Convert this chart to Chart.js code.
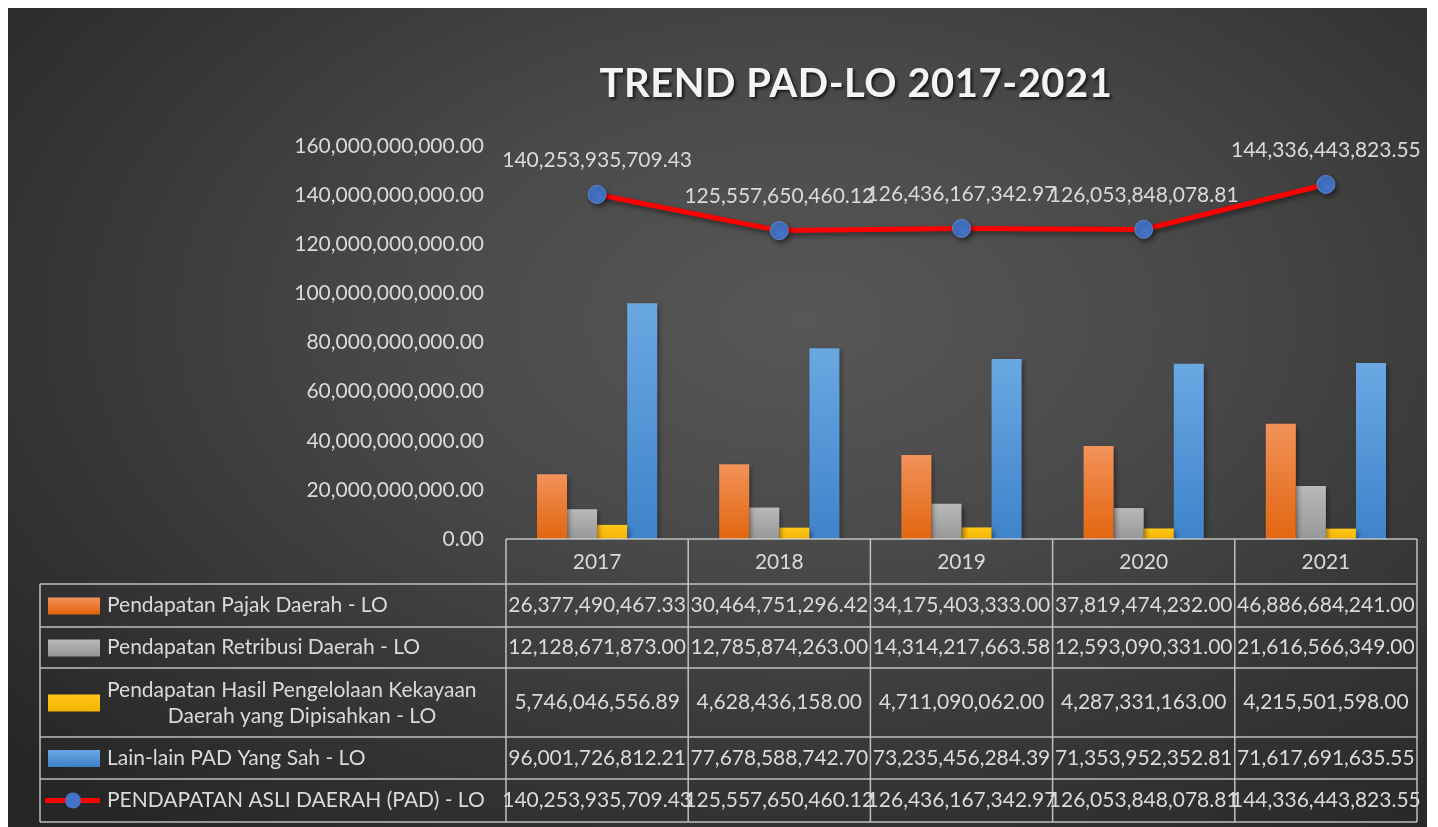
<!DOCTYPE html>
<html>
<head>
<meta charset="utf-8">
<title>TREND PAD-LO 2017-2021</title>
<script src="https://cdn.jsdelivr.net/npm/chart.js@4"></script>
<style>
  html, body { margin: 0; padding: 0; background: #fff; }
  #wrap {
    position: absolute; left: 8px; top: 8px; width: 1419px; height: 819px;
    background: radial-gradient(ellipse 75% 80% at 56% 38%, #575757 0%, #4a4a4a 35%, #363636 70%, #262626 100%);
  }
</style>
</head>
<body>
<div id="wrap"><canvas id="chart"></canvas></div>
<script>
const years = ['2017', '2018', '2019', '2020', '2021'];

const pajakDaerah = [26377490467.33, 30464751296.42, 34175403333.00, 37819474232.00, 46886684241.00];
const retribusiDaerah = [12128671873.00, 12785874263.00, 14314217663.58, 12593090331.00, 21616566349.00];
const hasilKekayaan = [5746046556.89, 4628436158.00, 4711090062.00, 4287331163.00, 4215501598.00];
const lainLainPad = [96001726812.21, 77678588742.70, 73235456284.39, 71353952352.81, 71617691635.55];
const totalPad = [140253935709.43, 125557650460.12, 126436167342.97, 126053848078.81, 144336443823.55];

const yTicks = [0, 20e9, 40e9, 60e9, 80e9, 100e9, 120e9, 140e9, 160e9];

const FONT = 'Lato, "Open Sans", sans-serif';
const TEXT = '#dadada';

function fmt(v) {
  return v.toLocaleString('en-US', { minimumFractionDigits: 2, maximumFractionDigits: 2 });
}

// vertical gradient per bar, lighter at the top
function barFill(top, bottom) {
  return (c) => {
    const chart = c.chart;
    if (!chart.chartArea || c.parsed == null) return bottom;
    const y = chart.scales.y;
    const y0 = y.getPixelForValue(c.parsed.y);
    const y1 = y.getPixelForValue(0);
    const g = chart.ctx.createLinearGradient(0, y0, 0, y1);
    g.addColorStop(0, top);
    g.addColorStop(1, bottom);
    return g;
  };
}

const series = [
  { label: 'Pendapatan Pajak Daerah - LO', data: pajakDaerah, top: '#f2925a', bottom: '#e2660f' },
  { label: 'Pendapatan Retribusi Daerah - LO', data: retribusiDaerah, top: '#b9b9b9', bottom: '#979797' },
  { label: ['Pendapatan Hasil Pengelolaan Kekayaan', 'Daerah yang Dipisahkan - LO'], data: hasilKekayaan, top: '#ffc81a', bottom: '#f4b400' },
  { label: 'Lain-lain PAD Yang Sah - LO', data: lainLainPad, top: '#6aa8e2', bottom: '#3f83cb' }
];

const rowHeights = [45, 43, 41, 69, 42, 43];

const bgTitle = {
  id: 'bgTitle',
  afterDraw(chart) {
    const ctx = chart.ctx;
    ctx.save();
    ctx.font = 'bold 40px ' + FONT;
    ctx.letterSpacing = '0.5px';
    ctx.textAlign = 'center';
    ctx.textBaseline = 'middle';
    ctx.shadowColor = 'rgba(0,0,0,0.7)';
    ctx.shadowBlur = 3;
    ctx.shadowOffsetX = 2;
    ctx.shadowOffsetY = 2;
    ctx.fillStyle = '#f4f4f4';
    ctx.fillText('TREND PAD-LO 2017-2021', 848, 76);
    ctx.restore();
  }
};

const lineShadow = {
  id: 'lineShadow',
  beforeDatasetDraw(chart) {
    const ctx = chart.ctx;
    ctx.save();
    ctx.shadowColor = 'rgba(0,0,0,0.45)';
    ctx.shadowBlur = 5;
    ctx.shadowOffsetX = 2;
    ctx.shadowOffsetY = 3;
  },
  afterDatasetDraw(chart) {
    chart.ctx.restore();
  }
};

const pointLabels = {
  id: 'pointLabels',
  afterDatasetsDraw(chart) {
    const ctx = chart.ctx;
    const meta = chart.getDatasetMeta(4);
    ctx.save();
    ctx.font = '21px ' + FONT;
    ctx.fillStyle = TEXT;
    ctx.textAlign = 'center';
    ctx.textBaseline = 'middle';
    meta.data.forEach((pt, i) => {
      ctx.fillText(fmt(totalPad[i]), pt.x, pt.y - 34);
    });
    ctx.restore();
  }
};

const dataTable = {
  id: 'dataTable',
  afterDraw(chart) {
    const ctx = chart.ctx;
    const area = chart.chartArea;
    const x = chart.scales.x;
    const half = (x.getPixelForValue(1) - x.getPixelForValue(0)) / 2;
    const tableLeft = 32;
    const rows = [area.bottom];
    rowHeights.forEach(h => rows.push(rows[rows.length - 1] + h));
    const bottom = rows[rows.length - 1];

    ctx.save();
    ctx.strokeStyle = 'rgba(215,215,215,0.85)';
    ctx.lineWidth = 1.5;
    ctx.beginPath();
    ctx.moveTo(area.left, rows[0]); ctx.lineTo(area.right, rows[0]);
    for (let r = 1; r < rows.length; r++) {
      ctx.moveTo(tableLeft, rows[r]); ctx.lineTo(area.right, rows[r]);
    }
    ctx.moveTo(tableLeft, rows[1]); ctx.lineTo(tableLeft, bottom);
    for (let i = 0; i <= years.length; i++) {
      const cx = i < years.length ? x.getPixelForValue(i) - half : x.getPixelForValue(years.length - 1) + half;
      ctx.moveTo(cx, rows[0]); ctx.lineTo(cx, bottom);
    }
    ctx.stroke();

    ctx.font = '21px ' + FONT;
    ctx.fillStyle = TEXT;
    ctx.textBaseline = 'middle';
    ctx.textAlign = 'center';
    years.forEach((yr, i) => {
      ctx.fillText(yr, x.getPixelForValue(i), (rows[0] + rows[1]) / 2 + 1);
    });

    const allRows = series.concat([{ label: 'PENDAPATAN ASLI DAERAH (PAD) - LO', data: totalPad, line: true }]);
    allRows.forEach((s, r) => {
      const top = rows[r + 1], bot = rows[r + 2];
      const mid = (top + bot) / 2;
      if (s.line) {
        ctx.strokeStyle = '#ff0000';
        ctx.lineWidth = 5;
        ctx.beginPath(); ctx.moveTo(37, mid); ctx.lineTo(92, mid); ctx.stroke();
        ctx.fillStyle = '#4472c4';
        ctx.beginPath(); ctx.arc(65, mid, 8, 0, Math.PI * 2); ctx.fill();
      } else {
        const g = ctx.createLinearGradient(0, mid - 8, 0, mid + 8);
        g.addColorStop(0, s.top); g.addColorStop(1, s.bottom);
        ctx.fillStyle = g;
        ctx.fillRect(40, mid - 8, 52, 17);
      }
      ctx.fillStyle = TEXT;
      if (Array.isArray(s.label)) {
        ctx.textAlign = 'left';
        ctx.fillText(s.label[0], 99, mid - 12);
        ctx.textAlign = 'center';
        ctx.fillText(s.label[1], 294, mid + 14);
      } else {
        ctx.textAlign = 'left';
        ctx.fillText(s.label, 99, mid);
      }
      ctx.textAlign = 'center';
      s.data.forEach((v, i) => {
        ctx.fillText(fmt(v), x.getPixelForValue(i), mid);
      });
    });
    ctx.restore();
  }
};

const datasets = series.map(s => ({
  type: 'bar',
  label: Array.isArray(s.label) ? s.label.join(' ') : s.label,
  data: s.data,
  backgroundColor: barFill(s.top, s.bottom),
  borderWidth: 0,
  barPercentage: 1,
  categoryPercentage: 0.66,
  order: 2
}));
datasets.push({
  type: 'line',
  label: 'PENDAPATAN ASLI DAERAH (PAD) - LO',
  data: totalPad,
  borderColor: '#ff0000',
  borderWidth: 5,
  pointRadius: 9,
  pointBackgroundColor: '#4472c4',
  pointBorderColor: '#5a86d0',
  pointBorderWidth: 1,
  tension: 0,
  clip: false,
  order: 1
});

new Chart(document.getElementById('chart'), {
  data: { labels: years, datasets },
  options: {
    responsive: true,
    maintainAspectRatio: false,
    animation: false,
    devicePixelRatio: 1,
    layout: { padding: { top: 138, right: 6, bottom: 288, left: 0 } },
    plugins: { legend: { display: false }, tooltip: { enabled: false }, title: { display: false } },
    scales: {
      x: { display: false },
      y: {
        min: 0,
        max: 160e9,
        afterFit(s) { s.width = 498; },
        afterBuildTicks(s) { s.ticks = yTicks.map(v => ({ value: v })); },
        grid: { display: false, drawTicks: false },
        border: { display: false },
        ticks: {
          color: TEXT,
          padding: 22,
          font: { family: FONT, size: 21 },
          callback: v => fmt(v)
        }
      }
    }
  },
  plugins: [bgTitle, lineShadow, pointLabels, dataTable]
});
</script>
</body>
</html>
